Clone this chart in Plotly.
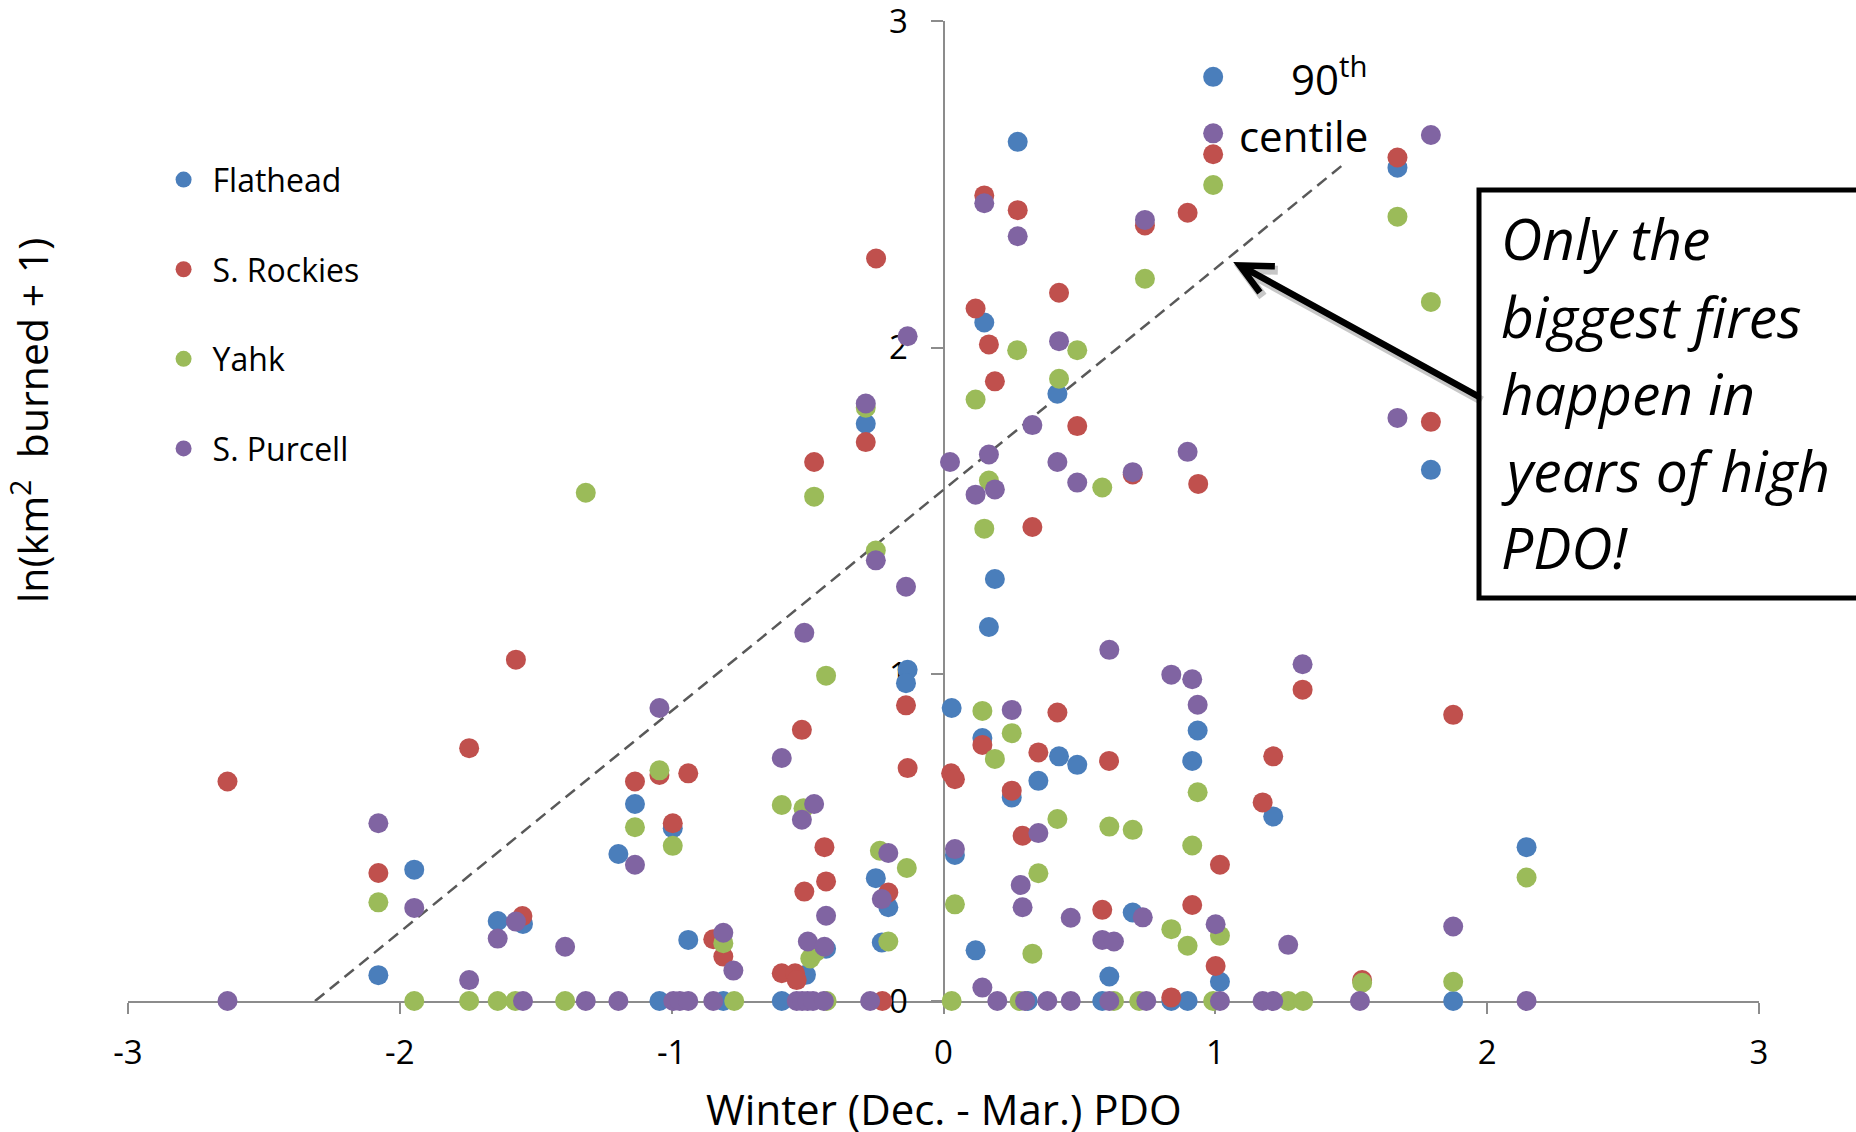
import plotly.graph_objects as go

# ---------------- data ----------------
flathead_x = [0.992, 0.273, 0.150, 1.670, -0.286, -0.132, -0.138, 0.419, 0.189, 0.167,
              1.793, -1.947, -1.640, -1.547, -2.079, -1.135, -0.996, -1.196, -0.432, -0.506,
              -0.249, -0.203, -0.227, -0.939, 0.030, 0.143, 0.425, 0.492, 0.915, 0.349,
              0.251, 1.213, 0.042, 0.696, 0.118, 1.017, 0.610, 0.935, 2.145,
              -1.045, -0.810, -0.595, 0.310, 0.584, 0.838, 0.898, 1.875]
flathead_y = [2.829, 2.630, 2.077, 2.551, 1.767, 1.014, 0.973, 1.859, 1.292, 1.145,
              1.626, 0.402, 0.245, 0.236, 0.079, 0.603, 0.529, 0.450, 0.160, 0.080,
              0.376, 0.287, 0.179, 0.187, 0.897, 0.805, 0.749, 0.723, 0.735, 0.674,
              0.623, 0.565, 0.447, 0.271, 0.155, 0.059, 0.075, 0.828, 0.471,
              0, 0, 0, 0, 0, 0, 0, 0]

rockies_x = [-0.248, 0.150, 0.273, 0.992, 0.741, 0.898, 0.425, 0.118, 0.167, 1.670,
             -0.286, -0.476, 0.189, 0.492, 0.696, 0.937, 0.327, 1.793, -1.573, -2.634,
             -1.745, -2.079, -1.549, -0.138, -0.521, -0.132, -1.135, -1.045, -0.939, -0.996,
             -0.438, -0.432, -0.512, -0.595, -0.546, -0.540, -0.203, -0.847, -0.810, 0.028,
             0.042, 0.419, 0.143, 0.349, 0.609, 1.213, 0.251, 1.174, 0.291, 1.017,
             0.584, 0.915, 1.001, 0.838, 1.321, 1.875, 1.540, -0.225]
rockies_y = [2.273, 2.466, 2.421, 2.592, 2.374, 2.413, 2.168, 2.120, 2.010, 2.582,
             1.711, 1.650, 1.897, 1.760, 1.612, 1.583, 1.451, 1.773, 1.045, 0.672,
             0.774, 0.392, 0.260, 0.905, 0.830, 0.713, 0.672, 0.692, 0.697, 0.544,
             0.471, 0.366, 0.335, 0.085, 0.085, 0.064, 0.332, 0.189, 0.136, 0.697,
             0.679, 0.883, 0.784, 0.761, 0.735, 0.749, 0.644, 0.608, 0.506, 0.417,
             0.279, 0.294, 0.107, 0.011, 0.953, 0.876, 0.064, 0]

yahk_x = [0.992, 0.741, 1.670, 1.793, -1.316, -0.286, -0.476, -0.249, -0.432, 0.271,
          0.492, 0.425, 0.118, 0.167, 0.584, 0.150, -2.079, -1.045, -1.135, -0.996,
          -0.595, -0.515, -0.490, -0.470, -0.234, -0.135, -0.203, -0.810, 0.143, 0.251,
          0.189, 0.935, 0.419, 0.610, 0.696, 0.915, 0.349, 0.042, 1.017, 0.838,
          0.898, 0.327, 2.145, 1.540, 1.875,
          -1.947, -1.745, -1.640, -1.575, -1.392, -0.770, -0.430, 0.030, 0.280, 0.627,
          0.720, 0.992, 1.268, 1.323]
yahk_y = [2.498, 2.211, 2.401, 2.140, 1.556, 1.816, 1.544, 1.379, 0.996, 1.992,
          1.992, 1.905, 1.841, 1.593, 1.572, 1.446, 0.302, 0.706, 0.532, 0.475,
          0.600, 0.590, 0.130, 0.150, 0.460, 0.407, 0.182, 0.177, 0.888, 0.820,
          0.741, 0.639, 0.557, 0.534, 0.524, 0.476, 0.391, 0.296, 0.200, 0.220,
          0.169, 0.145, 0.378, 0.056, 0.059,
          0, 0, 0, 0, 0, 0, 0, 0, 0, 0,
          0, 0, 0, 0]

purcell_x = [-0.132, 0.150, 0.273, 0.992, 0.741, 0.425, 1.793, -0.286, 0.024, -0.249,
             -0.138, -0.512, 0.167, 0.118, 0.189, 0.327, 0.419, 0.492, 0.696, 0.898,
             0.610, 1.321, 0.838, 0.915, 1.670, -2.079, -1.947, -1.640, -1.573, -1.745,
             -1.045, -0.595, -1.135, -0.476, -0.521, -0.432, -0.499, -0.438, -0.203, -0.227,
             -1.392, -0.810, -0.773, 0.251, 0.935, 0.349, 0.042, 0.284, 0.291, 0.468,
             0.733, 1.001, 1.268, 0.584, 0.627, 0.143, 1.875,
             -2.634, -1.547, -1.316, -1.196, -0.994, -0.970, -0.939, -0.847, -0.540, -0.520,
             -0.500, -0.480, -0.440, -0.270, 0.198, 0.300, 0.382, 0.468, 0.610, 0.746,
             1.017, 1.174, 1.213, 1.532, 2.145]
purcell_y = [2.035, 2.442, 2.341, 2.656, 2.391, 2.020, 2.651, 1.829, 1.650, 1.349,
             1.268, 1.127, 1.673, 1.550, 1.566, 1.763, 1.650, 1.587, 1.619, 1.681,
             1.075, 1.031, 0.999, 0.985, 1.785, 0.544, 0.285, 0.191, 0.243, 0.064,
             0.897, 0.744, 0.417, 0.603, 0.555, 0.261, 0.182, 0.166, 0.453, 0.312,
             0.166, 0.209, 0.093, 0.891, 0.907, 0.514, 0.465, 0.355, 0.287, 0.255,
             0.256, 0.235, 0.172, 0.187, 0.182, 0.041, 0.228,
             0, 0, 0, 0, 0, 0, 0, 0, 0, 0,
             0, 0, 0, 0, 0, 0, 0, 0, 0, 0,
             0, 0, 0, 0, 0]

series_names = ["Flathead", "S. Rockies", "Yahk", "S. Purcell"]
series_colors = ["#4A7EBB", "#C0504D", "#9BBB59", "#8064A2"]

# 90th centile quantile-regression line
q90_intercept = 1.565
q90_slope = 0.677
q90_x = [-2.312, 1.480]

x_ticks = [-3, -2, -1, 0, 1, 2, 3]
y_ticks = [0, 1, 2, 3]

# ---------------- figure ----------------
W, H = 1856, 1132
ML, MR, MT, MB = 128, 97, 21, 131
FONT = "Open Sans"

fig = go.Figure()

# dashed line
fig.add_trace(go.Scatter(
    x=q90_x, y=[q90_intercept + q90_slope * v for v in q90_x],
    mode="lines", line=dict(color="#595959", width=2.5, dash="12px,7px"),
    showlegend=False, hoverinfo="skip"))

all_data = [(flathead_x, flathead_y), (rockies_x, rockies_y),
            (yahk_x, yahk_y), (purcell_x, purcell_y)]
for i, ((xs, ys), name, col) in enumerate(zip(all_data, series_names, series_colors)):
    fig.add_trace(go.Scatter(
        x=xs, y=ys, mode="markers", name=name, legendgroup=f"g{i}",
        marker=dict(size=20, color=col, line=dict(width=0)),
        cliponaxis=False))

axis_col = "#8C8C8C"
fig.update_layout(
    width=W, height=H,
    margin=dict(l=ML, r=MR, t=MT, b=MB, autoexpand=False),
    paper_bgcolor="white", plot_bgcolor="white",
    font=dict(family=FONT, color="black", size=33),
    xaxis=dict(range=[-3, 3], tickvals=x_ticks, ticktext=[str(v) for v in x_ticks],
               showgrid=False, zeroline=False, showline=True, linecolor=axis_col,
               linewidth=2, ticks="outside", ticklen=11, tickwidth=2, tickcolor=axis_col,
               tickfont=dict(size=33), ticklabelstandoff=10, layer="below traces",
               ticklabeloverflow="allow", automargin=False),
    yaxis=dict(range=[0, 3], tickvals=y_ticks, showgrid=False, zeroline=False,
               showline=True, linecolor=axis_col, linewidth=2, ticks="outside",
               ticklen=12, tickwidth=2, tickcolor=axis_col, anchor="free", position=0.5,
               tickfont=dict(size=33), ticklabelstandoff=16, layer="below traces",
               ticklabeloverflow="allow", automargin=False),
    legend=dict(x=0.0163, y=0.866, xanchor="left", yanchor="top",
                font=dict(size=32, family=FONT), tracegroupgap=45,
                itemwidth=48, bgcolor="rgba(0,0,0,0)"),
    showlegend=True,
)

PW = W - ML - MR
PH = H - MT - MB


def px(xp):
    return (xp - ML) / PW


def py(yp):
    return (H - MB - yp) / PH


# axis titles
fig.add_annotation(text="Winter (Dec. - Mar.) PDO", xref="x", yref="paper",
                   x=0, y=py(1108), xanchor="center", yanchor="middle",
                   showarrow=False, font=dict(size=42, family=FONT))
fig.add_annotation(text="ln(km<sup>2</sup>  burned + 1)", xref="paper", yref="paper",
                   x=px(30), y=py(421), xanchor="center", yanchor="middle",
                   textangle=-90, showarrow=False, font=dict(size=41, family=FONT))

# 90th centile label
fig.add_annotation(text="90<sup>th</sup>", xref="paper", yref="paper",
                   x=px(1370), y=py(76), xanchor="right", yanchor="middle",
                   showarrow=False, font=dict(size=42, family=FONT))
fig.add_annotation(text="centile", xref="paper", yref="paper",
                   x=px(1370), y=py(136), xanchor="right", yanchor="middle",
                   showarrow=False, font=dict(size=42, family=FONT))

# callout box
fig.add_shape(type="rect", xref="paper", yref="paper",
              x0=px(1479), x1=px(1880), y0=py(598), y1=py(190),
              line=dict(color="black", width=5), fillcolor="white", layer="above")
box_lines = ["Only the", "biggest fires", "happen in", "years of high", "PDO!"]
box_centers = [238, 316, 393, 470, 547]
for t, yc in zip(box_lines, box_centers):
    fig.add_annotation(text=t, xref="paper", yref="paper", x=px(1499), y=py(yc),
                       xanchor="left", yanchor="middle", showarrow=False,
                       font=dict(size=57, family=FONT, style="italic"))

# arrow (open head) in data coordinates
head = (1.090, 2.252)
tail = (1.969, 1.850)
wing1 = (1.219, 2.249)
wing2 = (1.164, 2.169)


def arrow_path(dx=0.0, dy=0.0):
    return (f"M {tail[0]+dx},{tail[1]+dy} L {head[0]+dx},{head[1]+dy} "
            f"M {wing1[0]+dx},{wing1[1]+dy} L {head[0]+dx},{head[1]+dy} "
            f"L {wing2[0]+dx},{wing2[1]+dy}")


sx = 3 / (PW / 6)
sy = -4 / (PH / 3)
fig.add_shape(type="path", xref="x", yref="y", path=arrow_path(sx, sy),
              line=dict(color="rgba(0,0,0,0.22)", width=9), layer="above")
fig.add_shape(type="path", xref="x", yref="y", path=arrow_path(),
              line=dict(color="black", width=6.5), layer="above")

fig.write_html("out.html")
